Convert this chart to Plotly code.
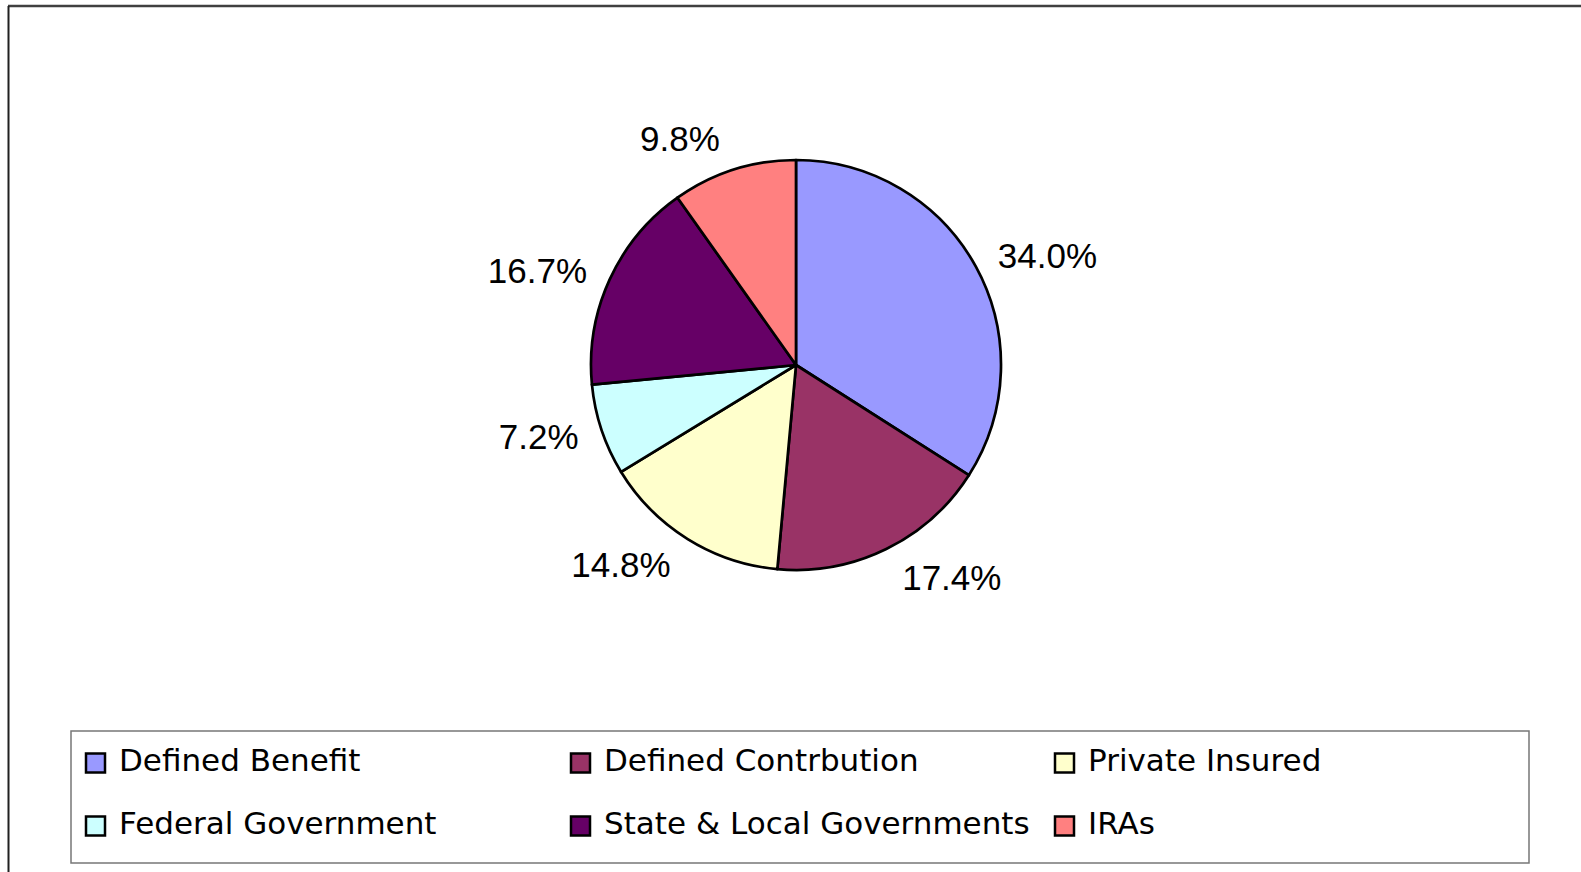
import plotly.graph_objects as go

# Pension asset shares by holder type (percent)
categories = ["Defined Benefit", "Defined Contrbution", "Private Insured",
              "Federal Government", "State & Local Governments", "IRAs"]
shares = [34.0, 17.4, 14.8, 7.2, 16.7, 9.8]
colors = ["#9999FF", "#993366", "#FFFFCC", "#CCFFFF", "#660066", "#FF8080"]

W, H = 1581, 872


def px(x):
    return x / W


def py(y):
    return 1 - y / H


FONT = "Liberation Sans, Arial, sans-serif"
LEGEND_FONT = "DejaVu Sans, Liberation Sans, sans-serif"
CX, CY, R = 796, 365, 205      # pie centre and radius in pixels
LABEL_R = 219                  # radius of the label ring

fig = go.Figure()

# the pie itself
fig.add_trace(go.Pie(
    labels=categories,
    values=shares,
    sort=False,
    direction="clockwise",
    rotation=0,
    marker=dict(colors=colors, line=dict(color="#000000", width=2.7)),
    textinfo="none",
    domain=dict(x=[px(CX - R), px(CX + R)], y=[py(CY + R), py(CY - R)]),
    showlegend=False,
    hoverinfo="label+value",
))

# transparent ring carrying the outside percentage labels a bit further out
fig.add_trace(go.Pie(
    labels=categories,
    values=shares,
    sort=False,
    direction="clockwise",
    rotation=0,
    marker=dict(colors=["rgba(0,0,0,0)"] * len(shares), line=dict(width=0)),
    texttemplate="%{value:.1f}%",
    textposition="outside",
    textfont=dict(family=FONT, size=35, color="#000000"),
    domain=dict(x=[px(CX - LABEL_R), px(CX + LABEL_R)],
                y=[py(CY + LABEL_R), py(CY - LABEL_R)]),
    showlegend=False,
    hoverinfo="skip",
))

shapes = []
annotations = []

# outer chart frame (top and left edges visible)
shapes.append(dict(type="line", xref="paper", yref="paper",
                   x0=px(8), x1=px(W + 5), y0=py(6), y1=py(6),
                   line=dict(color="#404040", width=2.5)))
shapes.append(dict(type="line", xref="paper", yref="paper",
                   x0=px(8.5), x1=px(8.5), y0=py(6), y1=py(H + 5),
                   line=dict(color="#202020", width=2)))

# legend frame
shapes.append(dict(type="rect", xref="paper", yref="paper",
                   x0=px(71), x1=px(1529), y0=py(863), y1=py(731),
                   line=dict(color="#777777", width=1.5),
                   fillcolor="rgba(0,0,0,0)"))

# legend entries: 3 columns x 2 rows
col_marker_x = [86, 571, 1055]
col_text_x = [117, 602, 1086]
row_y = [760, 823]
box = 19
for i, (name, col) in enumerate(zip(categories, colors)):
    r, c = divmod(i, 3)
    mx = col_marker_x[c]
    my = row_y[r] + 3
    shapes.append(dict(type="rect", xref="paper", yref="paper",
                       x0=px(mx), x1=px(mx + box),
                       y0=py(my + box / 2), y1=py(my - box / 2),
                       fillcolor=col, line=dict(color="#000000", width=2.5)))
    annotations.append(dict(xref="paper", yref="paper",
                            x=px(col_text_x[c]), y=py(row_y[r]),
                            xanchor="left", yanchor="middle",
                            text=name, showarrow=False,
                            font=dict(family=LEGEND_FONT, size=31,
                                      color="#000000")))

fig.update_layout(
    width=W, height=H,
    margin=dict(l=0, r=0, t=0, b=0),
    paper_bgcolor="#FFFFFF",
    plot_bgcolor="#FFFFFF",
    shapes=shapes,
    annotations=annotations,
)

fig.write_html("out.html")
